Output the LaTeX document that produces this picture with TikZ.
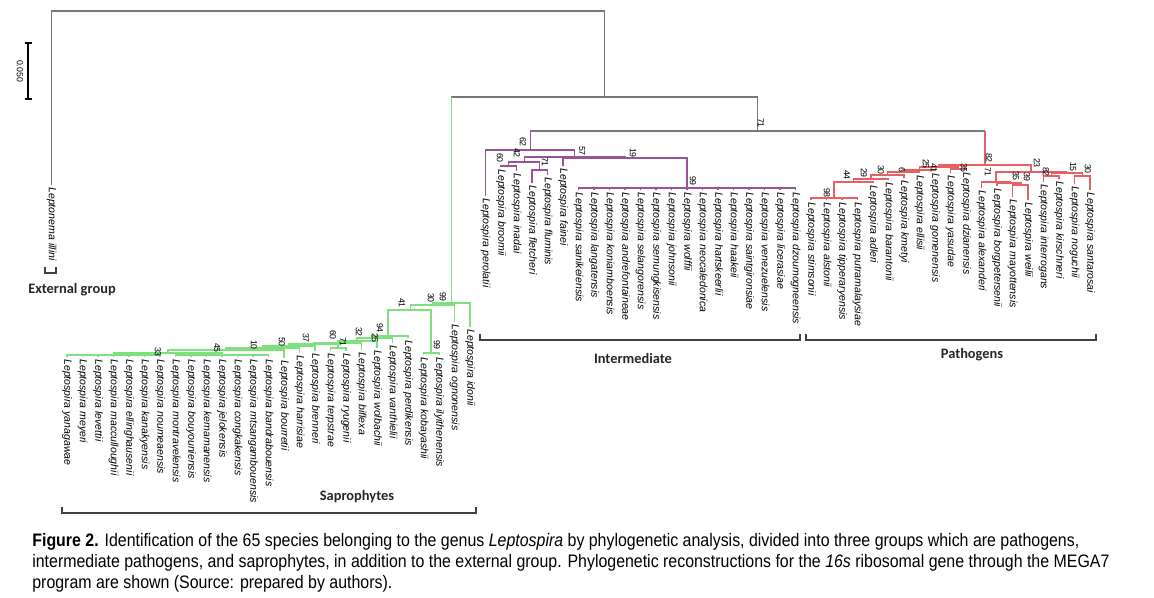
\documentclass[tikz,border=0pt]{standalone}
\usepackage{fontspec}
\setmainfont{Liberation Sans}
\newfontfamily\spfont{Liberation Sans}
\newfontfamily\capfont[FakeStretch=0.88]{Liberation Sans}
\newfontfamily\grpfont{Carlito}
\definecolor{treegray}{RGB}{120,120,120}
\definecolor{sgreen}{RGB}{125,225,125}
\definecolor{ipurple}{RGB}{150,85,150}
\definecolor{pred}{RGB}{232,95,100}
\newcommand\lv[4]{\coordinate (#1) at (#2,#3); \node[leaf] (#1-lab) at (#2,#3+2) {#4};}
\newcommand\bsl[4]{\node[bs] (#1) at (#2,#3) {#4};}
\begin{document}
\begin{tikzpicture}[x=0.02cm,y=-0.02cm,
  leaf/.style={rotate=-90,anchor=west,inner sep=0pt,font=\spfont\itshape\fontsize{6}{7}\selectfont},
  bs/.style={rotate=-90,inner sep=0pt,font=\spfont\fontsize{5}{6}\selectfont},
  grp/.style={inner sep=0pt,font=\grpfont\bfseries\fontsize{8.2}{10}\selectfont,text=black!85},
  gl/.style={draw=treegray,line width=0.6pt},
  sl/.style={draw=sgreen,line width=0.9pt},
  il/.style={draw=ipurple,line width=0.8pt},
  pl/.style={draw=pred,line width=0.8pt},
  brk/.style={draw=black!75,line width=0.6pt},
  captext/.style={anchor=base west,inner sep=0pt,font=\capfont\fontsize{10.3}{12}\selectfont}]
\path[use as bounding box] (0,0) rectangle (1154,598);

% ---------- scale bar ----------
\draw[line width=1.2pt] (28,43) -- (28,99);
\draw[line width=1.2pt] (24.5,43) -- (31.5,43);
\draw[line width=1.2pt] (24.5,99) -- (31.5,99);
\node[bs] (scale) at (20,71) {0.050};

% ---------- internal node coordinates ----------
\coordinate (R0) at (328,11);
\coordinate (LR) at (604.2,97);
% saprophytes
\coordinate (S99) at (451.4,303);
\coordinate (S30a) at (432.9,305);
\coordinate (S30b) at (410.5,310);
\coordinate (K99) at (431.25,353);
\coordinate (S41) at (388,336);
\coordinate (T4) at (372,338);
\coordinate (T3) at (357,341);
\coordinate (T2) at (337.5,343);
\coordinate (V) at (313.6,344);
\coordinate (T1) at (338.25,348);
\coordinate (Z) at (288.9,346);
\coordinate (Y) at (262.7,348);
\coordinate (X) at (226,350);
\coordinate (W) at (167.75,353);
\coordinate (F1) at (113.5,355);
\coordinate (F2) at (222,355);
% intermediate
\coordinate (IP) at (757.9,131);
\coordinate (I62) at (530.25,150);
\coordinate (I57) at (574.6,157);
\coordinate (I42) at (524.25,162);
\coordinate (I60) at (508.75,166);
\coordinate (I71) at (539.75,170);
\coordinate (N19) at (625,158);
\coordinate (I99) at (687,188);
% pathogens
\coordinate (P82) at (984.8,165);
\coordinate (L41) at (938.75,167);
\coordinate (N25) at (919.25,170);
\coordinate (N6) at (903.5,172);
\coordinate (N30) at (887.5,175);
\coordinate (N29) at (871,179);
\coordinate (N44) at (853.5,182);
\coordinate (N98) at (834,198);
\coordinate (N35y) at (958.25,169);
\coordinate (R23) at (1030.9,172);
\coordinate (R71) at (996,182);
\coordinate (N35r) at (1010,183);
\coordinate (N39) at (1021,185);
\coordinate (R15) at (1066.75,173);
\coordinate (R82) at (1051.25,176);
\coordinate (R30) at (1082.25,176);

% ---------- leaves ----------
\lv{lillini}{51.5}{185}{Leptonema illini}
% saprophytes
\lv{yanagawae}{67}{357}{Leptospira yanagawae}
\lv{meyeri}{82.5}{357}{Leptospira meyeri}
\lv{levettii}{98}{357}{Leptospira levettii}
\lv{macculloughii}{113.5}{357}{Leptospira macculloughii}
\lv{ellinghausenii}{129}{357}{Leptospira ellinghausenii}
\lv{kanakyensis}{144.5}{357}{Leptospira kanakyensis}
\lv{noumeaensis}{160}{357}{Leptospira noumeaensis}
\lv{montravelensis}{175.5}{357}{Leptospira montravelensis}
\lv{bouyouniensis}{191}{357}{Leptospira bouyouniensis}
\lv{kemamanensis}{206.5}{357}{Leptospira kemamanensis}
\lv{jelokensis}{222}{357}{Leptospira jelokensis}
\lv{congkakensis}{237.5}{357}{Leptospira congkakensis}
\lv{mtsangambouensis}{253}{357}{Leptospira mtsangambouensis}
\lv{bandrabouensis}{268.5}{357}{Leptospira bandrabouensis}
\lv{bourretii}{284}{358}{Leptospira bourretii}
\lv{harrisiae}{299.5}{353}{Leptospira harrisiae}
\lv{brenneri}{315}{351}{Leptospira brenneri}
\lv{terpstrae}{330.5}{351}{Leptospira terpstrae}
\lv{ryugenii}{346}{351}{Leptospira ryugenii}
\lv{biflexa}{361.5}{350}{Leptospira biflexa}
\lv{wolbachii}{377}{348}{Leptospira wolbachii}
\lv{vanthielii}{392.5}{343}{Leptospira vanthielii}
\lv{perdikensis}{408}{338}{Leptospira perdikensis}
\lv{kobayashii}{423.5}{355}{Leptospira kobayashii}
\lv{ilyithenensis}{439}{355}{Leptospira ilyithenensis}
\lv{ognonensis}{454.5}{322}{Leptospira ognonensis}
\lv{idonii}{470}{327}{Leptospira idonii}
% intermediate
\lv{perolatii}{485.5}{196}{Leptospira perolatii}
\lv{broomii}{501}{167}{Leptospira broomii}
\lv{inadai}{516.5}{171}{Leptospira inadai}
\lv{fletcheri}{532}{183}{Leptospira fletcheri}
\lv{fluminis}{547.5}{175}{Leptospira fluminis}
\lv{fainei}{563}{166}{Leptospira fainei}
\lv{sanikeiensis}{578.5}{190}{Leptospira sanikeiensis}
\lv{langatensis}{594}{190}{Leptospira langatensis}
\lv{koniamboensis}{609.5}{190}{Leptospira koniamboensis}
\lv{andrefontaineae}{625}{190}{Leptospira andrefontaineae}
\lv{selangorensis}{640.5}{190}{Leptospira selangorensis}
\lv{semungkisensis}{656}{190}{Leptospira semungkisensis}
\lv{johnsonii}{671.5}{190}{Leptospira johnsonii}
\lv{wolffii}{687}{190}{Leptospira wolffii}
\lv{neocaledonica}{702.5}{190}{Leptospira neocaledonica}
\lv{hartskeerlii}{718}{190}{Leptospira hartskeerlii}
\lv{haakeii}{733.5}{190}{Leptospira haakeii}
\lv{saintgironsiae}{749}{190}{Leptospira saintgironsiae}
\lv{venezuelensis}{764.5}{190}{Leptospira venezuelensis}
\lv{licerasiae}{780}{190}{Leptospira licerasiae}
\lv{dzoumogneensis}{795.5}{190}{Leptospira dzoumogneensis}
% pathogens
\lv{stimsonii}{811}{200}{Leptospira stimsonii}
\lv{alstonii}{826.5}{200}{Leptospira alstonii}
\lv{tipperaryensis}{842}{200}{Leptospira tipperaryensis}
\lv{putramalaysiae}{857.5}{200}{Leptospira putramalaysiae}
\lv{adleri}{873}{183}{Leptospira adleri}
\lv{barantonii}{888.5}{180}{Leptospira barantonii}
\lv{kmetyi}{904}{178}{Leptospira kmetyi}
\lv{ellisii}{919.5}{173}{Leptospira ellisii}
\lv{gomenensis}{935}{171}{Leptospira gomenensis}
\lv{yasudae}{950.5}{173}{Leptospira yasudae}
\lv{dzianensis}{966}{170}{Leptospira dzianensis}
\lv{alexanderi}{981.5}{188}{Leptospira alexanderi}
\lv{borgpetersenii}{997}{186}{Leptospira borgpetersenii}
\lv{mayottensis}{1012.5}{197}{Leptospira mayottensis}
\lv{weilii}{1028}{200}{Leptospira weilii}
\lv{interrogans}{1043.5}{182}{Leptospira interrogans}
\lv{kirschneri}{1059}{179}{Leptospira kirschneri}
\lv{noguchii}{1074.5}{184}{Leptospira noguchii}
\lv{santarosai}{1090}{190}{Leptospira santarosai}

% ---------- branches ----------
\draw[gl] (R0) -| (lillini);
\draw[gl] (R0) -| (LR);
\draw[gl] (LR) -- (LR -| S99);
\draw[sl] (LR -| S99) -- (S99);
\draw[gl] (LR) -| (IP);
\draw[gl] (IP) -- (IP -| I62);
\draw[il] (IP -| I62) -- (I62);
\draw[gl] (IP) -- (IP -| P82);
\draw[pl] (IP -| P82) -- (P82);

% saprophytes
\foreach \c in {idonii,S30a} \draw[sl] (S99) -| (\c);
\foreach \c in {ognonensis,S30b} \draw[sl] (S30a) -| (\c);
\foreach \c in {K99,S41} \draw[sl] (S30b) -| (\c);
\foreach \c in {kobayashii,ilyithenensis} \draw[sl] (K99) -| (\c);
\foreach \c in {perdikensis,T4} \draw[sl] (S41) -| (\c);
\foreach \c in {vanthielii,T3} \draw[sl] (T4) -| (\c);
\foreach \c in {wolbachii,T2} \draw[sl] (T3) -| (\c);
\foreach \c in {biflexa,V} \draw[sl] (T2) -| (\c);
\foreach \c in {T1,Z} \draw[sl] (V) -| (\c);
\foreach \c in {terpstrae,ryugenii} \draw[sl] (T1) -| (\c);
\foreach \c in {brenneri,Y} \draw[sl] (Z) -| (\c);
\foreach \c in {harrisiae,X} \draw[sl] (Y) -| (\c);
\foreach \c in {bourretii,W} \draw[sl] (X) -| (\c);
\foreach \c in {F1,F2} \draw[sl] (W) -| (\c);
\foreach \c in {yanagawae,meyeri,levettii,macculloughii,ellinghausenii,kanakyensis,noumeaensis} \draw[sl] (F1) -| (\c);
\foreach \c in {montravelensis,bouyouniensis,kemamanensis,jelokensis,congkakensis,mtsangambouensis,bandrabouensis} \draw[sl] (F2) -| (\c);

% intermediate
\foreach \c in {perolatii,I57} \draw[il] (I62) -| (\c);
\foreach \c in {I42,N19} \draw[il] (I57) -| (\c);
\foreach \c in {I60,I71} \draw[il] (I42) -| (\c);
\foreach \c in {broomii,inadai} \draw[il] (I60) -| (\c);
\foreach \c in {fletcheri,fluminis} \draw[il] (I71) -| (\c);
\foreach \c in {fainei,I99} \draw[il] (N19) -| (\c);
\foreach \c in {sanikeiensis,langatensis,koniamboensis,andrefontaineae,selangorensis,semungkisensis,johnsonii,wolffii,neocaledonica,hartskeerlii,haakeii,saintgironsiae,venezuelensis,licerasiae,dzoumogneensis} \draw[il] (I99) -| (\c);

% pathogens
\foreach \c in {L41,R23} \draw[pl] (P82) -| (\c);
\foreach \c in {N25,N35y} \draw[pl] (L41) -| (\c);
\foreach \c in {yasudae,dzianensis} \draw[pl] (N35y) -| (\c);
\foreach \c in {N6,gomenensis} \draw[pl] (N25) -| (\c);
\foreach \c in {N30,ellisii} \draw[pl] (N6) -| (\c);
\foreach \c in {N29,kmetyi} \draw[pl] (N30) -| (\c);
\foreach \c in {N44,barantonii} \draw[pl] (N29) -| (\c);
\foreach \c in {N98,adleri} \draw[pl] (N44) -| (\c);
\foreach \c in {stimsonii,alstonii,tipperaryensis,putramalaysiae} \draw[pl] (N98) -| (\c);
\foreach \c in {R71,R15} \draw[pl] (R23) -| (\c);
\foreach \c in {alexanderi,N35r} \draw[pl] (R71) -| (\c);
\foreach \c in {borgpetersenii,N39} \draw[pl] (N35r) -| (\c);
\foreach \c in {mayottensis,weilii} \draw[pl] (N39) -| (\c);
\foreach \c in {R82,R30} \draw[pl] (R15) -| (\c);
\foreach \c in {interrogans,kirschneri} \draw[pl] (R82) -| (\c);
\foreach \c in {noguchii,santarosai} \draw[pl] (R30) -| (\c);

% ---------- bootstrap values ----------
\bsl{b1}{761}{123}{71}
\bsl{b2}{523}{142}{62}
\bsl{b3}{582}{151}{57}
\bsl{b4}{633}{153}{19}
\bsl{b5}{517}{153}{42}
\bsl{b6}{500}{158}{60}
\bsl{b7}{545}{162}{71}
\bsl{b8}{693}{181}{99}
\bsl{b9}{827}{193}{98}
\bsl{b10}{847}{175}{44}
\bsl{b11}{864}{173}{29}
\bsl{b12}{881}{170}{30}
\bsl{b13}{902}{170}{6}
\bsl{b14}{926}{164}{25}
\bsl{b15}{934}{168}{41}
\bsl{b16}{964}{168}{35}
\bsl{b17}{989}{158}{82}
\bsl{b18}{988}{172}{71}
\bsl{b19}{1016}{176}{35}
\bsl{b20}{1027}{177}{39}
\bsl{b21}{1037}{163}{23}
\bsl{b22}{1046}{172}{82}
\bsl{b23}{1073}{167}{15}
\bsl{b24}{1088}{169}{30}
\bsl{b25}{443}{297}{99}
\bsl{b26}{431}{298}{30}
\bsl{b27}{402}{303}{41}
\bsl{b28}{380}{328}{94}
\bsl{b29}{375}{338}{25}
\bsl{b30}{359}{332}{32}
\bsl{b31}{343}{342}{71}
\bsl{b32}{333}{335}{60}
\bsl{b33}{437}{345}{99}
\bsl{b34}{306}{338}{37}
\bsl{b35}{282}{342}{50}
\bsl{b36}{254}{345}{10}
\bsl{b37}{217}{348}{45}
\bsl{b38}{158}{352}{33}

% ---------- group brackets ----------
\draw[brk] (45,267) -- (45,273) -- (56,273) -- (56,267);
\draw[brk] (480,334) -- (480,340) -- (800,340) -- (800,334);
\draw[brk] (806,334) -- (806,340) -- (1096,340) -- (1096,334);
\draw[brk] (62,507) -- (62,513) -- (476,513) -- (476,507);

\node[grp] (gext) at (72,290) {External group};
\node[grp] (gint) at (633,358) {Intermediate};
\node[grp] (gpat) at (972,355) {Pathogens};
\node[grp] (gsap) at (357,497) {Saprophytes};

% ---------- caption ----------
\node[captext] (cap1) at (32,546) {\textbf{Figure 2.} Identification of the 65 species belonging to the genus \textit{Leptospira} by phylogenetic analysis, divided into three groups which are pathogens,};
\node[captext] (cap2) at (32,567) {intermediate pathogens, and saprophytes, in addition to the external group. Phylogenetic reconstructions for the \textit{16s} ribosomal gene through the MEGA7};
\node[captext] (cap3) at (32,588) {program are shown (Source: prepared by authors).};
\end{tikzpicture}
\end{document}
